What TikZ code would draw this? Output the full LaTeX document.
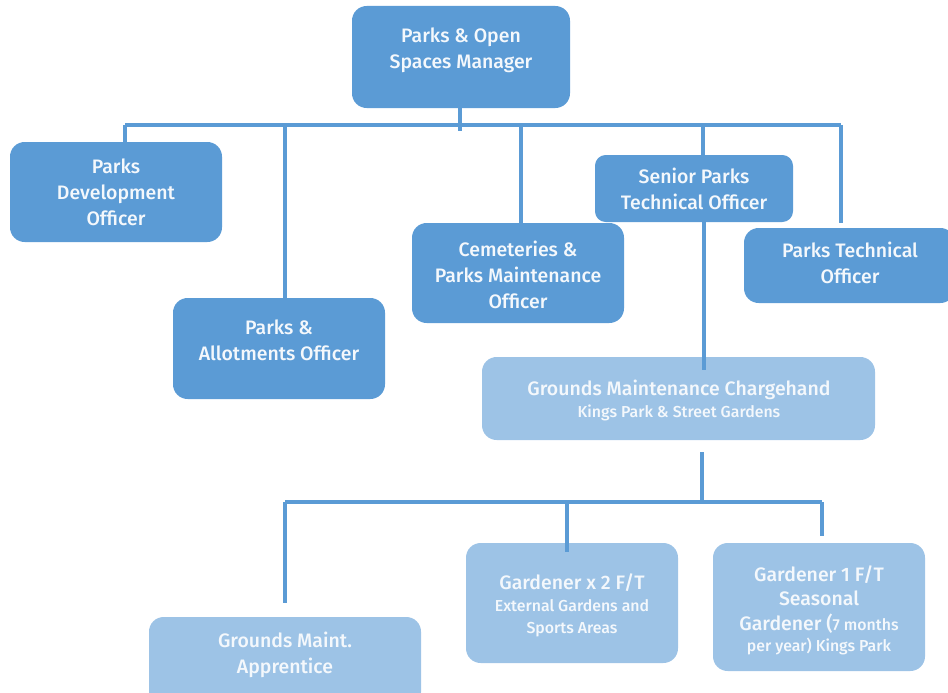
\documentclass[tikz,border=0pt]{standalone}
\usepackage{fontspec}
\setmainfont{Fira Sans}[UprightFont=* Medium]
\definecolor{dblue}{HTML}{5B9BD5}
\definecolor{lblue}{HTML}{9DC3E6}
\definecolor{lineblue}{HTML}{5B9BD5}
\definecolor{txtwhite}{HTML}{F4F8FC}
\newcommand{\smf}{\fontsize{11.9}{15.75}\selectfont}
\begin{document}
\begin{tikzpicture}[x=0.75pt,y=-0.75pt,
  dbox/.style={fill=dblue, rounded corners=11pt, inner sep=0pt},
  lbox/.style={fill=lblue, rounded corners=11pt, inner sep=0pt},
  txt/.style={text=txtwhite, align=center, inner sep=0pt, font=\fontsize{14.6}{19.5}\selectfont},
  conn/.style={draw=lineblue, line width=2.5pt}]
\useasboundingbox (0,0) rectangle (948,692);
\clip (0,0) rectangle (948,692);
% boxes
\node[dbox, minimum width=163.5pt, minimum height=76.5pt] (top) at (461,57) {};
\node[txt] (toptxt) at (461,50) {Parks \& Open\\Spaces Manager};
\node[dbox, minimum width=159pt, minimum height=75pt] (dev) at (116,192) {};
\node[txt] (devtxt) at (116,192) {Parks\\Development\\Officer};
\node[dbox, minimum width=159pt, minimum height=75.75pt] (allot) at (279,348.5) {};
\node[txt] (allottxt) at (279,340) {Parks \&\\Allotments Officer};
\node[dbox, minimum width=159pt, minimum height=75pt] (cem) at (518,273) {};
\node[txt] (cemtxt) at (518,274.5) {Cemeteries \&\\Parks Maintenance\\Officer};
\node[dbox, minimum width=148.5pt, minimum height=50.25pt, rounded corners=8pt] (senior) at (694,188.5) {};
\node[txt] (seniortxt) at (694,189) {Senior Parks\\Technical Officer};
\node[dbox, minimum width=158.25pt, minimum height=56.25pt] (ptech) at (849.5,265.5) {};
\node[txt] (ptechtxt) at (850,263) {Parks Technical\\Officer};
\node[lbox, minimum width=294.75pt, minimum height=62.25pt] (charge) at (678.5,398.5) {};
\node[txt] (chargetxt) at (679,400) {Grounds Maintenance Chargehand\\[-3pt]{\smf Kings Park \& Street Gardens}};
\node[lbox, minimum width=204pt, minimum height=67.5pt] (appr) at (285,662) {};
\node[txt] (apprtxt) at (285,654.5) {Grounds Maint.\\Apprentice};
\node[lbox, minimum width=159pt, minimum height=90pt] (gtwo) at (572,603) {};
\node[txt] (gtwotxt) at (572,605) {Gardener x 2 F/T\\[-3pt]{\smf External Gardens and}\\[-3pt]{\smf Sports Areas}};
\node[lbox, minimum width=159pt, minimum height=96pt] (gone) at (819,607) {};
\node[txt] (gonetxt) at (819,610) {Gardener 1 F/T\\[-1pt]Seasonal\\[-1pt]Gardener ({\smf 7 months}\\[-4pt]{\smf per year) Kings Park}};
% connectors
\coordinate (b1) at (125,125);
\coordinate (b2) at (285,125);
\coordinate (b3) at (521,125);
\coordinate (b4) at (703,125);
\coordinate (b5) at (841,125);
\coordinate (b0) at (460,131);
\coordinate (b5e) at (841,223);
\draw[conn] (top.south -| b0) -- (b0);
\draw[conn] (b1) -- (b5);
\draw[conn] (b1) -- (b1 |- dev.north);
\draw[conn] (b2) -- (b2 |- allot.north);
\draw[conn] (b3) -- (b3 |- cem.north);
\draw[conn] (b4) -- (b4 |- senior.north);
\draw[conn] (b5) -- (b5e);
\coordinate (s1) at (704,370);
\draw[conn] (senior.south -| s1) -- (s1);
\coordinate (c0) at (702,452);
\coordinate (c1) at (285,502);
\coordinate (c2) at (567,502);
\coordinate (c3) at (822,502);
\coordinate (c1e) at (285,603);
\coordinate (c2e) at (567,552);
\coordinate (c3e) at (822,536);
\draw[conn] (c0) -- (c0 |- c1);
\draw[conn] (c1) -- (c3);
\draw[conn] (c1) -- (c1e);
\draw[conn] (c2) -- (c2e);
\draw[conn] (c3) -- (c3e);
\end{tikzpicture}
\end{document}
